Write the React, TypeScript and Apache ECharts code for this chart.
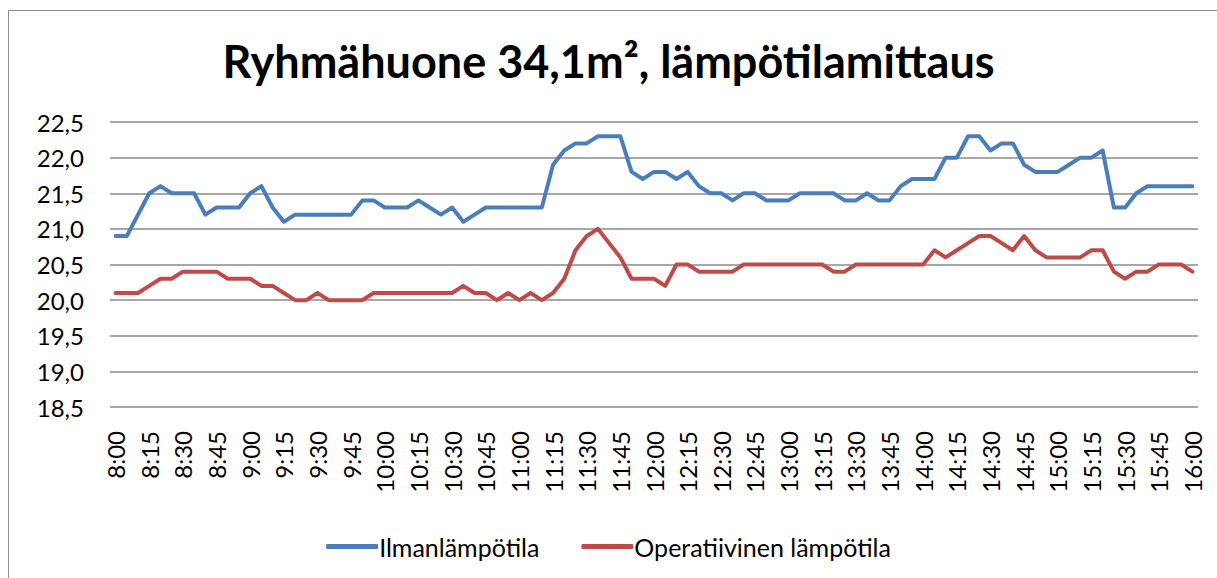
import React, { useEffect, useRef } from "react";
import * as echarts from "echarts";

const title = "Ryhmähuone 34,1m², lämpötilamittaus";
const seriesNames = ["Ilmanlämpötila", "Operatiivinen lämpötila"];

function buildTimes(): string[] {
  const out: string[] = [];
  for (let m = 8 * 60; m <= 16 * 60; m += 5) {
    const h = Math.floor(m / 60);
    const mm = m % 60;
    out.push(`${h}:${mm < 10 ? "0" + mm : mm}`);
  }
  return out;
}
const categories = buildTimes();

const ilman = [
  20.9, 20.9, 21.2, 21.5, 21.6, 21.5, 21.5, 21.5, 21.2, 21.3, 21.3, 21.3,
  21.5, 21.6, 21.3, 21.1, 21.2, 21.2, 21.2, 21.2, 21.2, 21.2, 21.4, 21.4,
  21.3, 21.3, 21.3, 21.4, 21.3, 21.2, 21.3, 21.1, 21.2, 21.3, 21.3, 21.3,
  21.3, 21.3, 21.3, 21.9, 22.1, 22.2, 22.2, 22.3, 22.3, 22.3, 21.8, 21.7,
  21.8, 21.8, 21.7, 21.8, 21.6, 21.5, 21.5, 21.4, 21.5, 21.5, 21.4, 21.4,
  21.4, 21.5, 21.5, 21.5, 21.5, 21.4, 21.4, 21.5, 21.4, 21.4, 21.6, 21.7,
  21.7, 21.7, 22.0, 22.0, 22.3, 22.3, 22.1, 22.2, 22.2, 21.9, 21.8, 21.8,
  21.8, 21.9, 22.0, 22.0, 22.1, 21.3, 21.3, 21.5, 21.6, 21.6, 21.6, 21.6,
  21.6,
];

const operatiivinen = [
  20.1, 20.1, 20.1, 20.2, 20.3, 20.3, 20.4, 20.4, 20.4, 20.4, 20.3, 20.3,
  20.3, 20.2, 20.2, 20.1, 20.0, 20.0, 20.1, 20.0, 20.0, 20.0, 20.0, 20.1,
  20.1, 20.1, 20.1, 20.1, 20.1, 20.1, 20.1, 20.2, 20.1, 20.1, 20.0, 20.1,
  20.0, 20.1, 20.0, 20.1, 20.3, 20.7, 20.9, 21.0, 20.8, 20.6, 20.3, 20.3,
  20.3, 20.2, 20.5, 20.5, 20.4, 20.4, 20.4, 20.4, 20.5, 20.5, 20.5, 20.5,
  20.5, 20.5, 20.5, 20.5, 20.4, 20.4, 20.5, 20.5, 20.5, 20.5, 20.5, 20.5,
  20.5, 20.7, 20.6, 20.7, 20.8, 20.9, 20.9, 20.8, 20.7, 20.9, 20.7, 20.6,
  20.6, 20.6, 20.6, 20.7, 20.7, 20.4, 20.3, 20.4, 20.4, 20.5, 20.5, 20.5,
  20.4,
];

const yMin = 18.5;
const yMax = 22.5;
const yStep = 0.5;

const FONT = "Lato, 'Noto Sans', sans-serif";

export default function App() {
  const ref = useRef<HTMLDivElement>(null);
  useEffect(() => {
    if (!ref.current) return;
    const chart = echarts.init(ref.current, undefined, { renderer: "svg" });
    chart.setOption({
      animation: false,
      backgroundColor: "#ffffff",
      textStyle: { fontFamily: FONT },
      graphic: [
        {
          type: "rect",
          shape: { x: 8.5, y: 10.5, width: 1220, height: 580 },
          style: { fill: "none", stroke: "#8c8c8c", lineWidth: 1 },
          silent: true,
        },
      ],
      title: {
        text: title,
        left: "center",
        top: 33,
        textStyle: {
          fontFamily: FONT,
          fontSize: 45,
          fontWeight: "bold",
          color: "#000000",
        },
      },
      legend: {
        bottom: 14,
        left: "center",
        itemWidth: 52,
        itemHeight: 5,
        itemGap: 42,
        icon: "roundRect",
        textStyle: { fontFamily: FONT, fontSize: 25, color: "#000000", padding: [0, 0, 0, -4] },
        data: seriesNames,
      },
      grid: { left: 110, right: 19, top: 122, bottom: 171, containLabel: false },
      xAxis: {
        type: "category",
        data: categories,
        boundaryGap: true,
        axisLine: { show: false },
        axisTick: { show: false },
        axisLabel: {
          interval: 2,
          rotate: 90,
          margin: 24,
          fontFamily: FONT,
          fontSize: 24,
          color: "#000000",
        },
        splitLine: { show: false },
      },
      yAxis: {
        type: "value",
        min: yMin,
        max: yMax,
        interval: yStep,
        axisLine: { show: false },
        axisTick: { show: false },
        axisLabel: {
          margin: 26,
          fontFamily: FONT,
          fontSize: 24,
          color: "#000000",
          formatter: (v: number) => v.toFixed(1).replace(".", ","),
        },
        splitLine: { lineStyle: { color: "#8a8a8a", width: 1.5 } },
      },
      series: [
        {
          name: seriesNames[0],
          type: "line",
          data: ilman,
          symbol: "none",
          lineStyle: { color: "#4A7EBB", width: 4, join: "round", cap: "round" },
          itemStyle: { color: "#4A7EBB" },
        },
        {
          name: seriesNames[1],
          type: "line",
          data: operatiivinen,
          symbol: "none",
          lineStyle: { color: "#BE4B48", width: 4, join: "round", cap: "round" },
          itemStyle: { color: "#BE4B48" },
        },
      ],
    });
    return () => chart.dispose();
  }, []);
  return (
    <div
      ref={ref}
      style={{ position: "fixed", left: 0, top: 0, width: 1217, height: 578 }}
    />
  );
}
